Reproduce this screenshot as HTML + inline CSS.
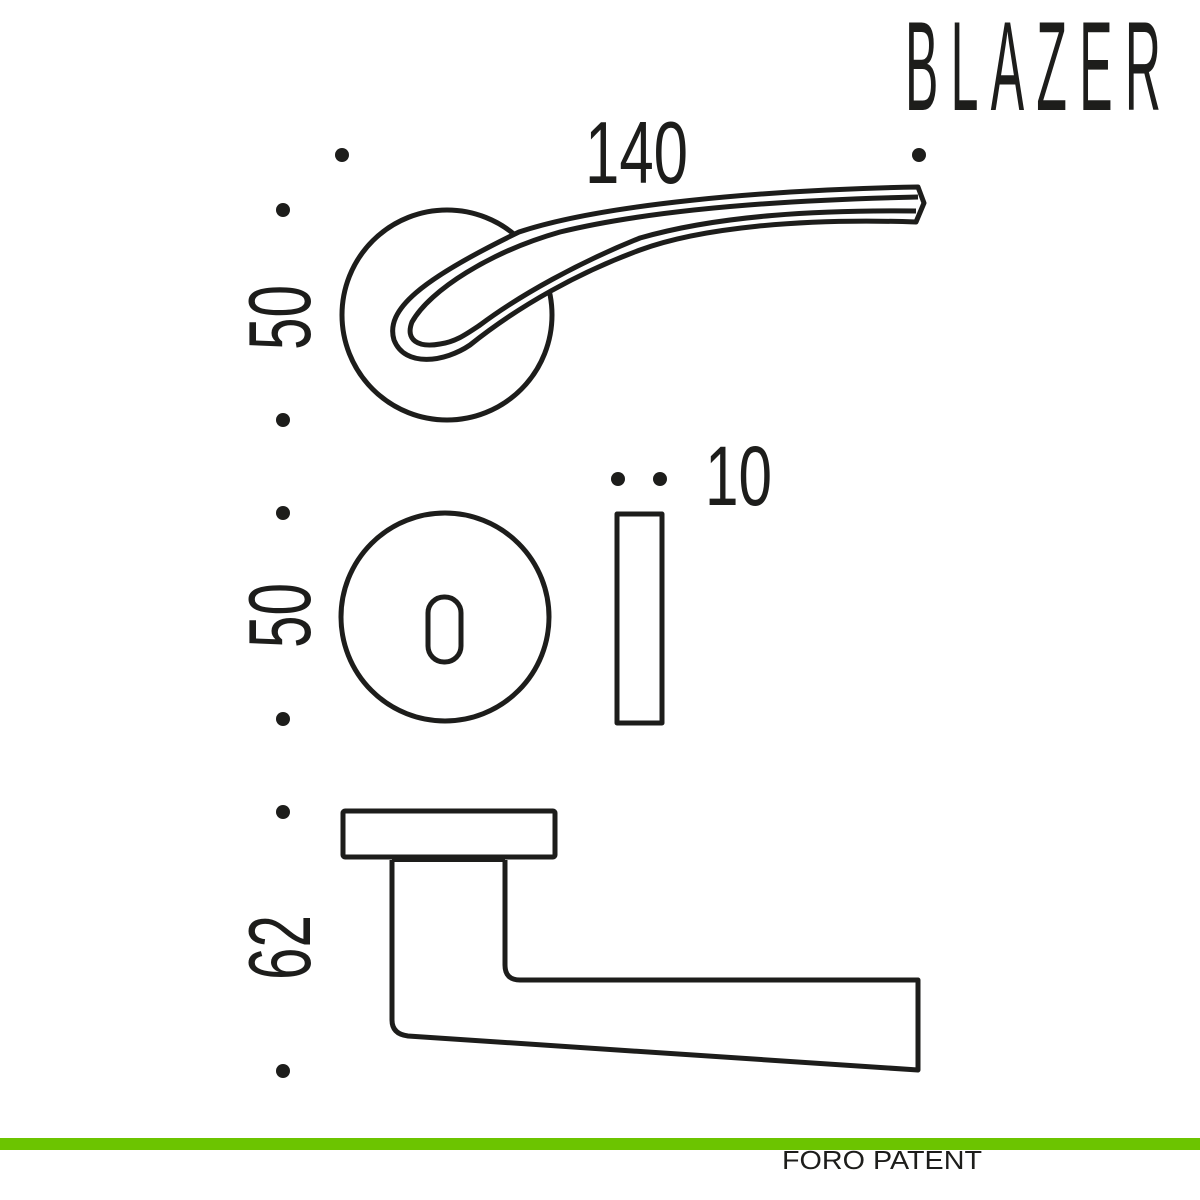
<!DOCTYPE html>
<html><head><style>html,body{margin:0;padding:0;background:#fff;width:1200px;height:1200px;overflow:hidden}</style></head>
<body>
<svg width="1200" height="1200" viewBox="0 0 1200 1200" xmlns="http://www.w3.org/2000/svg" font-family="Liberation Sans, sans-serif">
<rect width="1200" height="1200" fill="#fff"/>
<g fill="#1d1d1b">
<circle cx="342" cy="155" r="7"/><circle cx="919" cy="155" r="7"/>
<circle cx="283" cy="210" r="7"/><circle cx="283" cy="420" r="7"/>
<circle cx="283" cy="513" r="7"/><circle cx="283" cy="719" r="7"/>
<circle cx="283" cy="812" r="7"/><circle cx="283" cy="1071" r="7"/>
<circle cx="618" cy="479" r="7"/><circle cx="660" cy="479" r="7"/>
</g>
<g fill="#1d1d1b">
<text x="585" y="183" font-size="88" textLength="103" lengthAdjust="spacingAndGlyphs">140</text>
<text x="705" y="505" font-size="84" textLength="67" lengthAdjust="spacingAndGlyphs">10</text>
<text transform="translate(310,350) rotate(-90)" font-size="88" textLength="65" lengthAdjust="spacingAndGlyphs">50</text>
<text transform="translate(310,648) rotate(-90)" font-size="88" textLength="65" lengthAdjust="spacingAndGlyphs">50</text>
<text transform="translate(310,980) rotate(-90)" font-size="88" textLength="65" lengthAdjust="spacingAndGlyphs">62</text>
</g>
<text transform="translate(905,110) scale(1,2.55)" font-size="50" fill="#1d1d1b" textLength="256" lengthAdjust="spacing">BLAZER</text>
<g fill="#fff" stroke="#1d1d1b" stroke-width="5" stroke-linejoin="round">
<circle cx="447" cy="315" r="105"/>
<path d="M519,232 C600,205 760,190 918,187 L924,203 L916,222 C800,218 700,228 640,250 C580,272 520,305 470,345 C445,362 405,368 394,340 C385,310 420,280 519,232 Z"/>
<path fill="none" d="M918,197 C780,200 650,210 560,232 C490,252 430,290 412,322 C405,340 418,348 440,344 C455,342 465,335 480,325 C520,295 580,262 640,238 C720,215 820,210 916,211"/>
<circle cx="445" cy="617" r="104"/>
<rect x="428" y="597" width="33" height="65" rx="16"/>
<rect x="617" y="514" width="45" height="209"/>
<path d="M392,860 V1020 Q392,1034 408,1036 L918,1070 V980 L520,980 Q505,980 505,965 V860"/>
<rect x="343" y="811" width="212" height="46" rx="2"/>
</g>
<rect x="392" y="856" width="113" height="6" fill="#1d1d1b"/>
<rect x="0" y="1138" width="1200" height="12" fill="#6cc400"/>
<text x="782" y="1169" font-size="26" fill="#1d1d1b" textLength="200" lengthAdjust="spacingAndGlyphs">FORO PATENT</text>
</svg>
</body></html>
